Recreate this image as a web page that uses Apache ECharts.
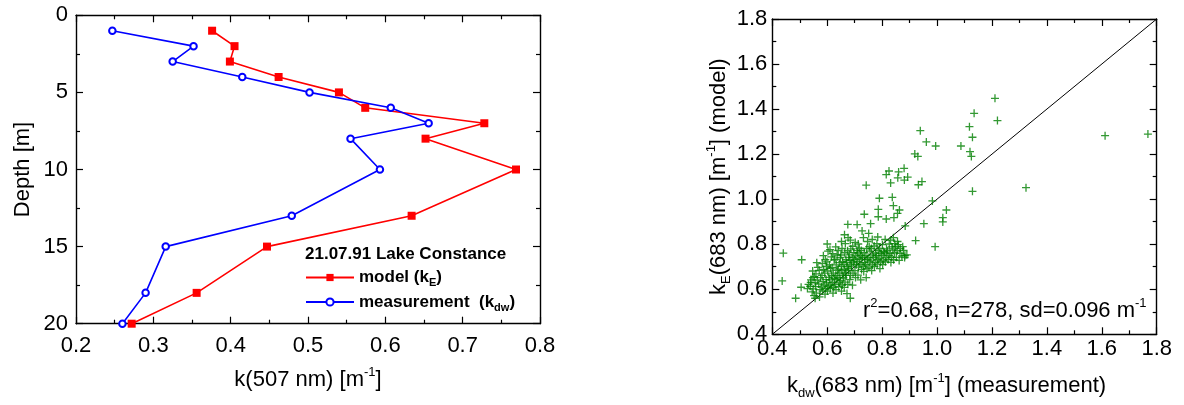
<!DOCTYPE html>
<html>
<head>
<meta charset="utf-8">
<script src="https://cdn.jsdelivr.net/npm/echarts@6/dist/echarts.min.js"></script>
<style>
  html, body { margin: 0; padding: 0; background: #fff; }
  #chart { width: 1184px; height: 405px; }
</style>
</head>
<body>
<div id="chart"></div>
<script>
// ---- Depth profile, 21.07.91 Lake Constance ----
const depths    = [1, 2, 3, 4, 5, 6, 7, 8, 10, 13, 15, 18, 20];
const kModel    = [0.376, 0.405, 0.399, 0.462, 0.540, 0.574, 0.728, 0.652, 0.769, 0.634, 0.447, 0.356, 0.272];
const kMeasured = [0.247, 0.352, 0.325, 0.415, 0.502, 0.607, 0.656, 0.555, 0.593, 0.479, 0.316, 0.290, 0.260];

// axis ranges: [min, max, interval]
const kAxisRange     = [0.2, 0.8, 0.1];
const depthAxisRange = [0, 20, 5];
const scatterRange   = [0.4, 1.8, 0.2];

// ---- Model vs. measurement at 683 nm: [k_dw, k_E] ----
const scatterOutliers = [
  [1.211,1.448],[1.135,1.381],[1.220,1.349],[1.118,1.322],[1.129,1.275],[1.087,1.236],[1.120,1.211],[1.125,1.190],[1.129,1.035],
  [0.939,1.304],[0.961,1.254],[0.995,1.236],[0.919,1.201],[0.930,1.190],[0.880,1.137],[0.860,1.121],[0.825,1.125],[0.815,1.109],
  [0.857,1.095],[0.893,1.098],[0.881,1.085],[0.831,1.072],[0.742,1.062],[0.945,1.078],[0.932,1.064],
  [0.790,1.004],[0.837,1.008],[0.841,0.971],[0.786,0.955],[0.863,0.952],[0.856,0.937],[0.983,0.992],[1.034,0.952],[0.735,0.933],
  [0.786,0.922],[0.815,0.912],[0.843,0.918],[1.021,0.918],[1.021,0.899],[0.952,0.891],[0.884,0.881],[0.922,0.816],[0.993,0.789],
  [0.890,0.753],[0.883,0.750],
  [0.440,0.760],[0.436,0.637],[0.485,0.560],[0.507,0.731],[0.540,0.631],[0.505,0.609],[0.684,0.560],[0.758,0.891],[0.709,0.887],
  [0.675,0.888],[0.556,0.560],[0.548,0.652],
  [1.612,1.282],[1.768,1.289],[1.324,1.051]
];
const scatterCluster = [
  [0.532,0.622],[0.528,0.603],
  [0.541,0.642],[0.545,0.588],[0.538,0.613],
  [0.552,0.572],[0.549,0.602],[0.556,0.628],[0.553,0.657],[0.547,0.681],
  [0.561,0.583],[0.558,0.612],[0.564,0.641],[0.559,0.668],[0.566,0.697],[0.562,0.718],
  [0.572,0.566],[0.574,0.598],[0.569,0.623],[0.576,0.652],[0.571,0.684],
  [0.583,0.592],[0.579,0.611],[0.585,0.634],[0.581,0.662],[0.587,0.688],[0.582,0.714],[0.586,0.749],
  [0.592,0.578],[0.594,0.603],[0.589,0.618],[0.596,0.643],[0.591,0.672],[0.597,0.701],[0.593,0.731],
  [0.601,0.592],[0.604,0.612],[0.598,0.628],[0.606,0.653],[0.602,0.681],[0.599,0.722],[0.603,0.769],[0.600,0.801],
  [0.611,0.603],[0.614,0.619],[0.609,0.642],[0.616,0.661],[0.612,0.693],[0.608,0.708],[0.615,0.744],[0.610,0.776],
  [0.621,0.583],[0.624,0.608],[0.619,0.631],[0.626,0.648],[0.622,0.672],[0.618,0.697],[0.625,0.729],[0.620,0.758],
  [0.632,0.598],[0.629,0.621],[0.635,0.643],[0.631,0.662],[0.637,0.684],[0.633,0.708],[0.628,0.733],[0.636,0.752],[0.631,0.788],
  [0.642,0.612],[0.645,0.628],[0.639,0.651],[0.646,0.672],[0.641,0.689],[0.644,0.718],[0.648,0.741],[0.640,0.772],
  [0.652,0.592],[0.655,0.619],[0.649,0.638],[0.657,0.661],[0.653,0.683],[0.651,0.702],[0.656,0.723],[0.650,0.752],[0.654,0.781],[0.652,0.812],
  [0.662,0.608],[0.665,0.632],[0.659,0.651],[0.667,0.672],[0.663,0.688],[0.661,0.709],[0.668,0.731],[0.664,0.762],[0.666,0.803],[0.663,0.842],
  [0.672,0.581],[0.675,0.622],[0.669,0.662],[0.677,0.683],[0.673,0.701],[0.671,0.719],[0.678,0.742],[0.674,0.771],[0.676,0.829],
  [0.682,0.643],[0.685,0.662],[0.679,0.693],[0.687,0.712],[0.683,0.728],[0.681,0.753],[0.686,0.779],[0.684,0.818],
  [0.692,0.618],[0.694,0.672],[0.689,0.703],[0.696,0.721],[0.691,0.742],[0.697,0.763],[0.693,0.791],
  [0.703,0.652],[0.701,0.683],[0.706,0.709],[0.699,0.731],[0.704,0.748],[0.708,0.772],[0.702,0.808],
  [0.712,0.663],[0.714,0.698],[0.709,0.722],[0.716,0.738],[0.711,0.761],[0.717,0.782],[0.713,0.801],
  [0.722,0.642],[0.725,0.688],[0.719,0.712],[0.726,0.733],[0.721,0.751],[0.724,0.772],[0.727,0.859],
  [0.733,0.679],[0.731,0.703],[0.736,0.718],[0.729,0.742],[0.735,0.762],[0.732,0.829],
  [0.742,0.652],[0.745,0.691],[0.739,0.709],[0.746,0.731],[0.741,0.749],[0.744,0.781],[0.747,0.812],
  [0.752,0.698],[0.755,0.722],[0.749,0.741],[0.756,0.769],[0.753,0.789],[0.751,0.848],
  [0.762,0.683],[0.765,0.708],[0.759,0.729],[0.766,0.752],[0.761,0.781],[0.764,0.821],
  [0.772,0.701],[0.775,0.719],[0.769,0.742],[0.776,0.761],[0.771,0.792],
  [0.782,0.712],[0.785,0.731],[0.779,0.749],[0.786,0.772],[0.781,0.802],[0.784,0.832],
  [0.792,0.692],[0.795,0.721],[0.789,0.738],[0.796,0.759],[0.791,0.781],
  [0.802,0.709],[0.805,0.729],[0.799,0.751],[0.806,0.768],[0.801,0.798],
  [0.812,0.722],[0.815,0.741],[0.809,0.762],[0.816,0.779],[0.811,0.821],
  [0.822,0.732],[0.825,0.749],[0.819,0.771],[0.826,0.801],
  [0.832,0.719],[0.835,0.742],[0.829,0.758],[0.836,0.788],[0.831,0.818],
  [0.842,0.731],[0.845,0.762],[0.839,0.779],[0.846,0.803],[0.841,0.829],
  [0.852,0.742],[0.855,0.771],[0.849,0.789],[0.856,0.812],
  [0.862,0.728],[0.865,0.759],[0.859,0.798],[0.866,0.781],
  [0.872,0.748],[0.875,0.789],
  [0.882,0.741],[0.878,0.772]
];
const oneToOne = [[0.4, 0.4], [1.8, 1.8]];

const FONT = 'Liberation Sans, Arial, sans-serif';
const INK = '#000';

// rich-text styles for sub/superscripts
const richText = (size) => ({
  n:   { fontFamily: FONT, fontSize: size, fontWeight: 'normal', color: INK, lineHeight: 28, verticalAlign: 'middle' },
  sup: { fontFamily: FONT, fontSize: 13, fontWeight: 'normal', color: INK, lineHeight: 13, verticalAlign: 'top' },
  sub: { fontFamily: FONT, fontSize: 13, fontWeight: 'normal', color: INK, lineHeight: 13, verticalAlign: 'bottom' }
});

function frameAxis(gridIndex, position, range, inverse, withLabels, labelMargin, digits) {
  return {
    type: 'value',
    gridIndex: gridIndex,
    position: position,
    min: range[0], max: range[1], interval: range[2],
    inverse: !!inverse,
    axisLine: { show: true, onZero: false, lineStyle: { color: INK, width: 1.4 } },
    axisTick: { show: true, inside: true, length: 7, lineStyle: { color: INK, width: 1.2 } },
    minorTick: { show: true, splitNumber: 2, length: 4, lineStyle: { color: INK, width: 1.2 } },
    splitLine: { show: false },
    axisLabel: {
      show: withLabels,
      margin: labelMargin,
      fontFamily: FONT, fontSize: 22, color: INK,
      formatter: v => digits === 0 ? String(Math.round(v)) : v.toFixed(digits)
    }
  };
}

const xLeftBottom = Object.assign(frameAxis(0, 'bottom', kAxisRange, false, true, 11, 1), {
  name: '{n|k(507 nm) [m}{sup|-1}{n|]}',
  nameLocation: 'middle', nameGap: 42,
  nameTextStyle: { rich: richText(22) }
});
const xLeftTop = frameAxis(0, 'top', kAxisRange, false, false, 0, 1);
const xRightBottom = Object.assign(frameAxis(1, 'bottom', scatterRange, false, true, 4, 1), {
  name: '{n|k}{sub|dw}{n|(683 nm) [m}{sup|-1}{n|] (measurement)}',
  nameLocation: 'middle', nameGap: 38,
  nameTextStyle: { rich: richText(22), padding: [0, 36, 0, 0] }
});
const xRightTop = frameAxis(1, 'top', scatterRange, false, false, 0, 1);

const yLeftLeft = Object.assign(frameAxis(0, 'left', depthAxisRange, true, true, 8, 0), {
  name: '{n|Depth [m]}',
  nameLocation: 'middle', nameGap: 39,
  nameTextStyle: { rich: richText(22) }
});
const yLeftRight = frameAxis(0, 'right', depthAxisRange, true, false, 0, 0);
const yRightLeft = Object.assign(frameAxis(1, 'left', scatterRange, false, true, 5, 1), {
  name: '{n|k}{sub|E}{n|(683 nm) [m}{sup|-1}{n|] (model)}',
  nameLocation: 'middle', nameGap: 34,
  nameTextStyle: { rich: richText(22) }
});
const yRightRight = frameAxis(1, 'right', scatterRange, false, false, 0, 1);

const legendNames = {
  'model (kE)': '{b|model (k}{s|E}{b|)}',
  'measurement (kdw)': '{b|measurement  (k}{s|dw}{b|)}'
};

const option = {
  animation: false,
  backgroundColor: '#fff',
  grid: [
    { left: 76, top: 15.3, width: 464, height: 308.4, outerBoundsMode: 'none', containLabel: false },
    { left: 772.3, top: 19, width: 384.4, height: 315.3, outerBoundsMode: 'none', containLabel: false }
  ],
  xAxis: [xLeftBottom, xLeftTop, xRightBottom, xRightTop],
  yAxis: [yLeftLeft, yLeftRight, yRightLeft, yRightRight],
  title: [
    {
      text: '21.07.91 Lake Constance',
      left: 305, top: 246, padding: 0,
      textStyle: { fontFamily: FONT, fontSize: 17, fontWeight: 'bold', color: INK }
    },
    {
      text: '{n|r}{sup|2}{n|=0.68, n=278, sd=0.096 m}{sup|-1}',
      left: 863, top: 297, padding: 0,
      textStyle: { fontWeight: 'normal', rich: richText(22) }
    }
  ],
  legend: {
    orient: 'vertical',
    left: 305, top: 269, padding: 0,
    itemWidth: 48, itemHeight: 9, itemGap: 5,
    data: ['model (kE)', 'measurement (kdw)'],
    formatter: name => legendNames[name],
    textStyle: {
      rich: {
        b: { fontFamily: FONT, fontSize: 17, fontWeight: 'bold', color: INK, lineHeight: 22, verticalAlign: 'middle' },
        s: { fontFamily: FONT, fontSize: 11, fontWeight: 'bold', color: INK, lineHeight: 11, verticalAlign: 'bottom' }
      }
    }
  },
  series: [
    {
      name: 'model (kE)',
      type: 'line',
      xAxisIndex: 0, yAxisIndex: 0,
      data: depths.map((d, i) => [kModel[i], d]),
      symbol: 'rect', symbolSize: 8,
      color: '#ff0000',
      lineStyle: { color: '#ff0000', width: 1.6 },
      itemStyle: { color: '#ff0000' },
      z: 3
    },
    {
      name: 'measurement (kdw)',
      type: 'line',
      xAxisIndex: 0, yAxisIndex: 0,
      data: depths.map((d, i) => [kMeasured[i], d]),
      symbol: 'emptyCircle', symbolSize: 6.5,
      color: '#0000ff',
      lineStyle: { color: '#0000ff', width: 1.6 },
      itemStyle: { color: '#0000ff', borderColor: '#0000ff', borderWidth: 1.3 },
      z: 4
    },
    {
      name: '1:1',
      type: 'line',
      xAxisIndex: 2, yAxisIndex: 2,
      data: oneToOne,
      symbol: 'none',
      lineStyle: { color: '#000', width: 1 },
      z: 2
    },
    {
      name: 'k_E vs k_dw',
      type: 'scatter',
      xAxisIndex: 2, yAxisIndex: 2,
      data: scatterOutliers.concat(scatterCluster),
      symbol: 'path://M0,4.5H9M4.5,0V9',
      symbolSize: 8,
      itemStyle: { color: 'rgba(0,0,0,0)', borderColor: '#008000', borderWidth: 1.3 },
      z: 3
    }
  ]
};

const chart = echarts.init(document.getElementById('chart'), null, { renderer: 'canvas' });
chart.setOption(option);
</script>
</body>
</html>
